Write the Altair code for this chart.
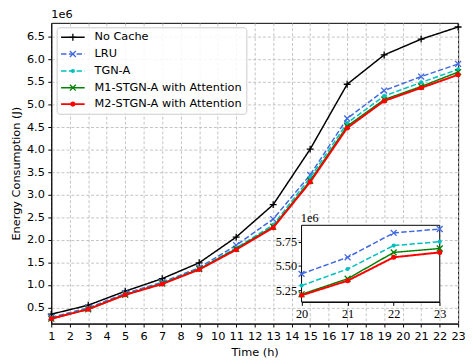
import altair as alt
import pandas as pd

# ---------------- data (values in units of 1e6 J) ----------------
hours = [1, 3, 5, 7, 9, 11, 13, 15, 17, 19, 21, 23]
series_names = ["No Cache", "LRU", "TGN-A", "M1-STGN-A with Attention", "M2-STGN-A with Attention"]
no_cache = [0.35, 0.55, 0.86, 1.14, 1.49, 2.06, 2.78, 4.01, 5.45, 6.10, 6.45, 6.72]
lru      = [0.28, 0.49, 0.81, 1.06, 1.38, 1.88, 2.46, 3.44, 4.69, 5.31, 5.62, 5.90]
tgn_a    = [0.26, 0.47, 0.79, 1.04, 1.36, 1.82, 2.33, 3.38, 4.59, 5.19, 5.49, 5.78]
m1_stgn  = [0.25, 0.46, 0.78, 1.03, 1.35, 1.80, 2.29, 3.31, 4.52, 5.11, 5.40, 5.72]
m2_stgn  = [0.25, 0.46, 0.78, 1.02, 1.34, 1.78, 2.27, 3.28, 4.48, 5.08, 5.37, 5.66]
main_values = [no_cache, lru, tgn_a, m1_stgn, m2_stgn]

inset_hours = [20, 21, 22, 23]
inset_lru = [5.42, 5.59, 5.84, 5.88]
inset_tgn = [5.30, 5.47, 5.71, 5.75]
inset_m1  = [5.21, 5.37, 5.64, 5.68]
inset_m2  = [5.20, 5.35, 5.59, 5.64]
inset_values = [None, inset_lru, inset_tgn, inset_m1, inset_m2]

x_ticks = list(range(1, 24))
y_ticks = [0.5, 1.0, 1.5, 2.0, 2.5, 3.0, 3.5, 4.0, 4.5, 5.0, 5.5, 6.0, 6.5]
inset_y_ticks = [5.25, 5.5, 5.75]

# ---------------- styles ----------------
PLUS = "M-1,0L1,0M0,-1L0,1"
XSH = "M-1,-1L1,1M-1,1L1,-1"
styles = [
    dict(color="#000000", dash=[1, 0], shape=PLUS, filled=False, size=49, lw=1.5),
    dict(color="#4169E1", dash=[5.5, 2.4], shape=XSH, filled=False, size=36, lw=1.5),
    dict(color="#00BFBF", dash=[5.5, 2.4], shape="circle", filled=True, size=18, lw=1.5),
    dict(color="#008000", dash=[1, 0], shape=XSH, filled=False, size=36, lw=1.5),
    dict(color="#FF0000", dash=[1, 0], shape="circle", filled=True, size=26, lw=2.0),
]

W, H = 414, 306
FONT = "DejaVu Sans"
SERIF = "Liberation Serif"
FS = 11.5

X_main = alt.X("t:Q", scale=alt.Scale(domain=[1, 23], nice=False, zero=False),
               axis=alt.Axis(values=x_ticks, title="Time (h)", format="d", grid=True,
                             tickSize=3.5, labelPadding=3.5, titlePadding=5, labelFlush=False,
                             labelOverlap=False))
Y_main = alt.Y("v:Q", scale=alt.Scale(domain=[0.142, 6.812], nice=False, zero=False),
               axis=alt.Axis(values=y_ticks, format=".1f", title="Energy Consumption (J)",
                             grid=True, tickSize=3.5, labelPadding=3.5, titlePadding=5))

X_in = alt.X("t:Q", scale=alt.Scale(domain=[20, 23], range=[254.7, 395.3], nice=False, zero=False),
             axis=alt.Axis(orient="bottom", offset=-22, values=inset_hours, format="d", grid=False,
                           title=None, tickSize=3.5, labelPadding=2, labelFont=SERIF,
                           labelFontSize=12.5, labelFlush=False))
Y_in = alt.Y("v:Q", scale=alt.Scale(domain=[5.132, 5.918], range=[284, 206], nice=False, zero=False),
             axis=alt.Axis(orient="left", offset=-254.7, values=inset_y_ticks, format=".2f", grid=False,
                           title=None, tickSize=3.5, labelPadding=1.5, labelFont=SERIF,
                           labelFontSize=12.5))


def series_layers(xs, ys, st, X, Y):
    df = pd.DataFrame({"t": xs, "v": ys})
    line = alt.Chart(df).mark_line(color=st["color"], strokeWidth=st["lw"],
                                   strokeDash=st["dash"]).encode(x=X, y=Y)
    pts = alt.Chart(df).mark_point(shape=st["shape"], filled=st["filled"], size=st["size"],
                                   color=st["color"], strokeWidth=1.3, opacity=1).encode(x=X, y=Y)
    return [line, pts]


main_layers = []
for vals, st in zip(main_values, styles):
    main_layers += series_layers(hours, vals, st, X_main, Y_main)

# legend box (drawn manually to show line + marker glyphs)
one = pd.DataFrame({"a": [0]})
main_layers.append(
    alt.Chart(one).mark_rect(fill="white", fillOpacity=0.85, stroke="#cccccc", strokeWidth=1,
                             cornerRadius=3)
    .encode(x=alt.value(6), x2=alt.value(199), y=alt.value(5), y2=alt.value(93))
)
legend_rows = [14.7, 31.7, 49.0, 66.0, 82.7]
for name, st, ly in zip(series_names, styles, legend_rows):
    ldf = pd.DataFrame({"name": [name]})
    main_layers.append(
        alt.Chart(ldf).mark_rule(color=st["color"], strokeWidth=st["lw"], strokeDash=st["dash"])
        .encode(x=alt.value(10), x2=alt.value(34), y=alt.value(ly))
    )
    main_layers.append(
        alt.Chart(ldf).mark_point(shape=st["shape"], filled=st["filled"], size=st["size"],
                                  color=st["color"], strokeWidth=1.3, opacity=1)
        .encode(x=alt.value(22), y=alt.value(ly))
    )
    main_layers.append(
        alt.Chart(ldf).mark_text(align="left", baseline="middle", font=FONT, fontSize=FS,
                                 color="black")
        .encode(x=alt.value(44), y=alt.value(ly), text="name:N")
    )

# main offset label
main_layers.append(
    alt.Chart(pd.DataFrame({"s": ["1e6"]})).mark_text(align="left", baseline="middle", font=FONT,
                                                     fontSize=FS, color="black")
    .encode(x=alt.value(0), y=alt.value(-7.5), text="s:N")
)

main = alt.layer(*main_layers)

# ---------------- inset ----------------
frame_df = pd.DataFrame({"t": [20], "t2": [23], "v": [5.132], "v2": [5.918]})
inset_layers = [
    alt.Chart(frame_df).mark_rect(fill="white", stroke="black", strokeWidth=1)
    .encode(x=X_in, x2="t2:Q", y=Y_in, y2="v2:Q")
]
for vals, st in zip(inset_values, styles):
    if vals is None:
        continue
    inset_layers += series_layers(inset_hours, vals, st, X_in, Y_in)
inset_layers.append(
    alt.Chart(pd.DataFrame({"s": ["1e6"]})).mark_text(align="left", baseline="middle", font=SERIF,
                                                     fontSize=12.5, color="black")
    .encode(x=alt.value(254), y=alt.value(199), text="s:N")
)
inset = alt.layer(*inset_layers)

chart = (
    alt.layer(main, inset)
    .resolve_scale(x="independent", y="independent")
    .properties(width=W, height=H, autosize=alt.AutoSizeParams(type="none"),
                padding={"left": 44, "top": 12, "right": 7, "bottom": 37},
                background="white")
    .configure_view(stroke="black", strokeWidth=1)
    .configure_axis(labelFont=FONT, labelFontSize=FS, titleFont=FONT, titleFontSize=FS,
                    titleFontWeight="normal", labelColor="black", titleColor="black",
                    domainColor="black", tickColor="black", domainWidth=1, tickWidth=1,
                    gridColor="#b5b5b5", gridDash=[3, 2], gridWidth=0.8)
)

chart.save("out.html", embed_options={"renderer": "svg", "actions": False})
